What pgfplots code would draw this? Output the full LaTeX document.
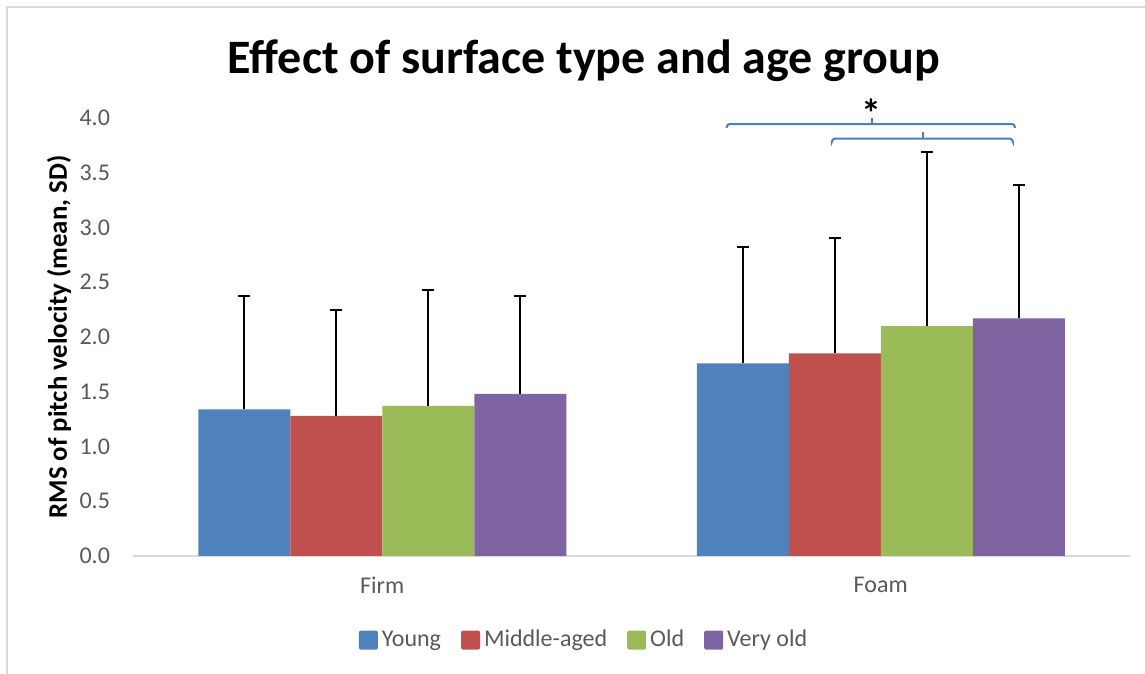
\documentclass[border=0pt]{standalone}
\usepackage{fontspec}
\setmainfont{Carlito}
\usepackage{pgfplots}
\pgfplotsset{compat=1.18}
\definecolor{cA}{HTML}{4F81BD}
\definecolor{cB}{HTML}{C0504D}
\definecolor{cC}{HTML}{9BBB59}
\definecolor{cD}{HTML}{8064A2}
\definecolor{axisgray}{HTML}{D9D9D9}
\definecolor{textgray}{HTML}{595959}
\definecolor{brk}{HTML}{4A7EC4}
\begin{document}
\begin{tikzpicture}
\useasboundingbox (0,0) rectangle (572.5pt,337pt);
\draw[color=axisgray, line width=0.8pt] (3.5pt,0) -- (3.5pt,333.5pt) -- (572.5pt,333.5pt);
\node[font=\fontsize{24}{28}\selectfont\bfseries] at (292pt,306.5pt) {Effect of surface type and age group};
\node[font=\fontsize{13.4}{16}\selectfont\bfseries, rotate=90] at (29.5pt,168.5pt) {RMS of pitch velocity (mean, SD)};
\begin{axis}[at={(66.5pt,59pt)}, anchor=south west, scale only axis,
  width=498.5pt, height=219pt,
  xmin=-0.5, xmax=1.5, ymin=0, ymax=4,
  ybar=0pt, bar width=46pt,
  xtick={0,1}, xticklabels={Firm,Foam},
  ytick={0,0.5,1,1.5,2,2.5,3,3.5,4},
  axis x line=bottom, axis y line=left,
  axis line style={-},
  x axis line style={draw=axisgray, line width=1pt},
  y axis line style={draw=none},
  major tick length=0pt,
  tick label style={font=\fontsize{12}{14}\selectfont, text=textgray},
  /pgf/number format/assume math mode=true,
  yticklabel style={/pgf/number format/fixed, /pgf/number format/fixed zerofill, /pgf/number format/precision=1, xshift=-8pt},
  xticklabel style={yshift=-7pt},
  clip=false,
  legend columns=-1,
  legend style={at={(0.4534,-0.192)}, anchor=center, draw=none, fill=none,
    font=\fontsize{12}{14}\selectfont, text=textgray,
    /tikz/every even column/.append style={column sep=8pt},
    /tikz/every odd column/.append style={column sep=0pt}},
  legend image code/.code={\fill[#1, rounded corners=1pt] (0pt,-4.75pt) rectangle (9.5pt,4.75pt);},
  error bars/y dir=plus, error bars/y explicit,
  error bars/error bar style={black, line width=1pt},
  error bars/error mark options={black, line width=1pt, mark size=3pt, rotate=90},
]
\addplot[fill=cA, draw=none] coordinates {(0,1.34) +- (0,1.03) (1,1.76) +- (0,1.06)};
\addplot[fill=cB, draw=none] coordinates {(0,1.28) +- (0,0.97) (1,1.85) +- (0,1.05)};
\addplot[fill=cC, draw=none] coordinates {(0,1.37) +- (0,1.06) (1,2.10) +- (0,1.59)};
\addplot[fill=cD, draw=none] coordinates {(0,1.48) +- (0,0.89) (1,2.17) +- (0,1.22)};
\legend{Young,Middle-aged,Old,Very old}
\draw[brk, line width=1pt, rounded corners=1.5pt] (axis cs:0.691,3.909) -- (axis cs:0.691,3.945) -- (axis cs:1.269,3.945) -- (axis cs:1.269,3.909);
\draw[brk, line width=1pt] (axis cs:0.982,3.945) -- (axis cs:0.982,4.0);
\draw[brk, line width=1pt, rounded corners=1.5pt] (axis cs:0.902,3.787) -- (axis cs:0.902,3.811) -- (axis cs:1.265,3.811) -- (axis cs:1.265,3.787);
\draw[brk, line width=1pt] (axis cs:1.084,3.811) -- (axis cs:1.084,3.875);
\node[font=\fontsize{20}{22}\selectfont\bfseries] at (axis cs:0.982,4.04) {*};
\end{axis}
\end{tikzpicture}
\end{document}
